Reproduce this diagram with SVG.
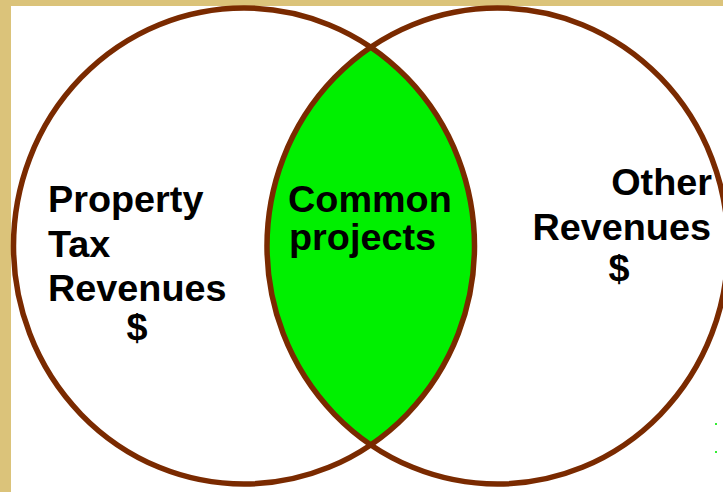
<svg xmlns="http://www.w3.org/2000/svg" width="723" height="492" viewBox="0 0 723 492">
<style>
.ring{fill:none;stroke:#7a2a00;stroke-width:5.5}
.lbl{font-family:"Liberation Sans",Arial,sans-serif;font-weight:bold;font-size:37.8px;fill:#000}
</style>
<defs>
<clipPath id="leftClip"><ellipse cx="244" cy="246" rx="230.5" ry="238"/></clipPath>
</defs>
<rect x="0" y="0" width="723" height="492" fill="#ffffff"/>
<rect x="0" y="0" width="723" height="6" fill="#dbc37a"/>
<rect x="0" y="0" width="11" height="492" fill="#dbc37a"/>
<g id="common">
<ellipse cx="497.5" cy="246" rx="230.5" ry="238" fill="#00f000" clip-path="url(#leftClip)"/>
</g>
<g id="property-tax">
<ellipse class="ring" cx="244" cy="246" rx="230.5" ry="238"/>
<text class="lbl" x="48" y="212">Property</text>
<text class="lbl" x="48" y="257">Tax</text>
<text class="lbl" x="48" y="301">Revenues</text>
<text class="lbl" x="137" y="340" text-anchor="middle">$</text>
</g>
<g id="other">
<ellipse class="ring" cx="497.5" cy="246" rx="230.5" ry="238"/>
<text class="lbl" x="712" y="195" text-anchor="end">Other</text>
<text class="lbl" x="711" y="240" text-anchor="end">Revenues</text>
<text class="lbl" x="619" y="281" text-anchor="middle">$</text>
</g>
<g id="common-text">
<text class="lbl" x="288" y="212">Common</text>
<text class="lbl" x="289" y="250">projects</text>
</g>
<g id="connectors"></g>
<rect x="715" y="423" width="2" height="2" fill="#33ee33"/>
<rect x="715" y="451" width="2" height="2" fill="#33ee33"/>
</svg>
